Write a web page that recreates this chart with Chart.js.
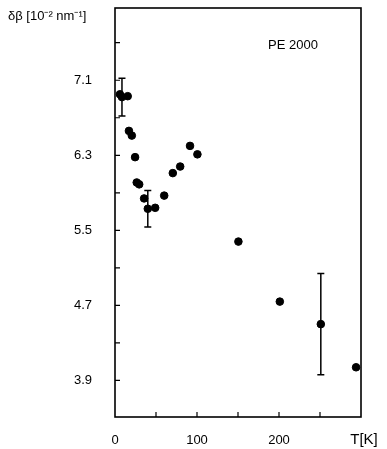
<!DOCTYPE html>
<html>
<head>
<meta charset="utf-8">
<script src="https://cdn.jsdelivr.net/npm/chart.js@4.4.1/dist/chart.umd.min.js"></script>
<style>
  html, body { margin: 0; padding: 0; background: #fff; }
  #wrap { width: 387px; height: 449px; }
</style>
</head>
<body>
<div id="wrap"><canvas id="chart" width="387" height="449"></canvas></div>
<script>
// Data
const temps = [6, 8.5, 15.5, 17, 20.5, 24.5, 26.5, 29.5, 35.5, 40, 49, 60, 70.5, 79.5, 91.5, 100.5, 150.5, 201, 251, 294];
const beta  = [6.95, 6.92, 6.93, 6.56, 6.51, 6.28, 6.01, 5.99, 5.84, 5.73, 5.74, 5.87, 6.11, 6.18, 6.40, 6.31, 5.38, 4.74, 4.50, 4.04];

// error bars: index of point and half-width
const errIndex = [1, 9, 18];
const errHalf  = [0.2, 0.195, 0.54];

const xTicks = [0, 50, 100, 150, 200, 250, 300];
const xLabels = [0, 100, 200];
const yTicks = [3.9, 4.3, 4.7, 5.1, 5.5, 5.9, 6.3, 6.7, 7.1, 7.5];
const yLabels = [3.9, 4.7, 5.5, 6.3, 7.1];

const FONT = 'Liberation Sans, Arial, sans-serif';

const near = (list, v) => list.some((t) => Math.abs(t - v) < 1e-6);

const framePlugin = {
  id: 'frame',
  afterDatasetsDraw(chart) {
    const { ctx, chartArea: a, scales: { x, y } } = chart;
    ctx.save();
    ctx.strokeStyle = '#000';
    ctx.fillStyle = '#000';

    // error bars
    ctx.lineWidth = 1.5;
    errIndex.forEach((i, k) => {
      const px = x.getPixelForValue(temps[i]);
      const top = y.getPixelForValue(beta[i] + errHalf[k]);
      const bot = y.getPixelForValue(beta[i] - errHalf[k]);
      ctx.beginPath();
      ctx.moveTo(px, top); ctx.lineTo(px, bot);
      ctx.moveTo(px - 3.5, top); ctx.lineTo(px + 3.5, top);
      ctx.moveTo(px - 3.5, bot); ctx.lineTo(px + 3.5, bot);
      ctx.stroke();
    });

    // frame
    ctx.lineWidth = 1.6;
    ctx.strokeRect(a.left, a.top, a.right - a.left, a.bottom - a.top);

    // inward ticks
    ctx.lineWidth = 1.2;
    ctx.beginPath();
    xTicks.forEach((v) => {
      const px = x.getPixelForValue(v);
      if (px <= a.left + 1 || px >= a.right - 1) return;
      ctx.moveTo(px, a.bottom); ctx.lineTo(px, a.bottom - 5);
    });
    yTicks.forEach((v) => {
      const py = y.getPixelForValue(v);
      if (py <= a.top + 1 || py >= a.bottom - 1) return;
      ctx.moveTo(a.left, py); ctx.lineTo(a.left + 5, py);
    });
    ctx.stroke();

    // texts
    ctx.font = '13px ' + FONT;
    ctx.textBaseline = 'middle';
    ctx.textAlign = 'left';
    ctx.fillText('δβ [10⁻² nm⁻¹]', 8, 16);
    ctx.fillText('PE 2000', 268, 45);
    ctx.textAlign = 'center';
    ctx.font = '15px ' + FONT;
    ctx.fillText('T[K]', x.getPixelForValue(300) + 3, 440);
    ctx.restore();
  },
};

new Chart(document.getElementById('chart'), {
  type: 'scatter',
  data: {
    datasets: [{
      data: temps.map((t, i) => ({ x: t, y: beta[i] })),
      backgroundColor: '#000',
      borderColor: '#000',
      pointRadius: 3.8,
      pointHoverRadius: 3.8,
    }],
  },
  options: {
    responsive: false,
    animation: false,
    layout: { padding: { top: 8, right: 26, left: 0, bottom: 0 } },
    plugins: { legend: { display: false }, tooltip: { enabled: false } },
    scales: {
      x: {
        type: 'linear', min: 0, max: 300,
        afterBuildTicks: (s) => { s.ticks = xTicks.map((v) => ({ value: v })); },
        afterFit: (s) => { s.height = 32; s.paddingLeft = 0; s.paddingRight = 0; },
        grid: { display: false, drawTicks: false },
        border: { display: false },
        ticks: {
          padding: 16, color: '#000', maxRotation: 0, autoSkip: false,
          font: { family: FONT, size: 13 },
          callback: (v) => (near(xLabels, v) ? String(v) : ''),
        },
      },
      y: {
        type: 'linear', min: 3.51, max: 7.87,
        afterBuildTicks: (s) => { s.ticks = yTicks.map((v) => ({ value: v })); },
        afterFit: (s) => { s.width = 115; s.paddingTop = 0; s.paddingBottom = 0; },
        grid: { display: false, drawTicks: false },
        border: { display: false },
        ticks: {
          padding: 23, color: '#000', autoSkip: false,
          font: { family: FONT, size: 13 },
          callback: (v) => (near(yLabels, v) ? v.toFixed(1) : ''),
        },
      },
    },
  },
  plugins: [framePlugin],
});
</script>
</body>
</html>
